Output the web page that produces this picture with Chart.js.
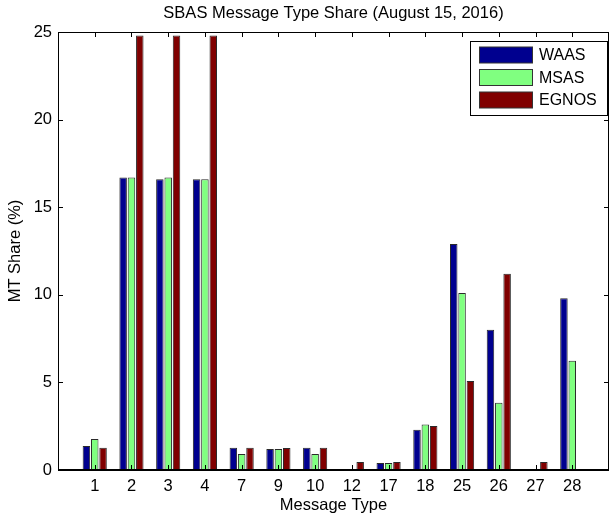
<!DOCTYPE html>
<html>
<head>
<meta charset="utf-8">
<script src="https://cdn.jsdelivr.net/npm/chart.js@4/dist/chart.umd.min.js"></script>
<style>
    html, body { margin: 0; padding: 0; background: #fff; }
    #box { width: 610px; height: 518px; }
</style>
</head>
<body>
<div id="box"><canvas id="grafico"></canvas></div>
<script>
const tiposMensagem = ["1", "2", "3", "4", "7", "9", "10", "12", "17", "18", "25", "26", "27", "28"];
const waas  = [1.37, 16.7, 16.6, 16.6, 1.27, 1.2, 1.27, 0, 0.4, 2.3, 12.9, 8.0, 0, 9.8];
const msas  = [1.77, 16.7, 16.7, 16.6, 0.91, 1.2, 0.91, 0, 0.4, 2.59, 10.1, 3.84, 0, 6.24];
const egnos = [1.27, 24.8, 24.8, 24.8, 1.27, 1.25, 1.27, 0.46, 0.46, 2.51, 5.08, 11.2, 0.46, 0];
const ticksY = [0, 5, 10, 15, 20, 25];

const fonte = "'Liberation Sans', Arial, Helvetica, sans-serif";

// posicao de cada tipo no eixo x (0..13), como no matlab com xlim 0..15
function pontos(valores) {
    return valores.map((v, i) => ({ x: i, y: v }));
}

// moldura, marcas internas e linha de base (estilo matlab)
const moldura = {
    id: "moldura",
    afterDatasetsDraw(chart) {
        const { ctx, chartArea: a, scales: { x, y } } = chart;
        ctx.save();
        ctx.strokeStyle = "#000";
        ctx.lineWidth = 1;
        ctx.strokeRect(Math.round(a.left) + 0.5, Math.round(a.top) + 0.5,
            Math.round(a.right - a.left) - 1, Math.round(a.bottom - a.top));
        ctx.beginPath();
        tiposMensagem.forEach((t, i) => {
            const px = Math.round(x.getPixelForValue(i)) + 0.5;
            ctx.moveTo(px, a.bottom); ctx.lineTo(px, a.bottom - 5);
            ctx.moveTo(px, a.top); ctx.lineTo(px, a.top + 5);
        });
        ticksY.forEach(v => {
            const py = Math.round(y.getPixelForValue(v)) + 0.5;
            ctx.moveTo(a.left, py); ctx.lineTo(a.left + 5, py);
            ctx.moveTo(a.right, py); ctx.lineTo(a.right - 5, py);
        });
        ctx.stroke();
        const y0 = y.getPixelForValue(0);
        ctx.lineWidth = 2;
        ctx.beginPath();
        ctx.moveTo(a.left, y0); ctx.lineTo(a.right, y0);
        ctx.stroke();
        ctx.restore();
    }
};

// legenda dentro do grafico, canto superior direito
const legendaInterna = {
    id: "legendaInterna",
    afterDraw(chart) {
        const { ctx } = chart;
        const x0 = 470, y0 = 41, w = 137, h = 74;
        ctx.save();
        ctx.fillStyle = "#fff";
        ctx.fillRect(x0, y0, w, h);
        ctx.strokeStyle = "#000";
        ctx.lineWidth = 1;
        ctx.strokeRect(x0 + 0.5, y0 + 0.5, w, h);
        ctx.font = "16px " + fonte;
        ctx.textBaseline = "middle";
        chart.data.datasets.forEach((ds, i) => {
            const ry = 47 + i * 22.5;
            ctx.fillStyle = ds.backgroundColor;
            ctx.fillRect(479.5, ry, 53, 16);
            ctx.strokeStyle = "#333";
            ctx.strokeRect(479.5, ry, 53, 16);
            ctx.fillStyle = "#000";
            ctx.fillText(ds.label, 539, ry + 9);
        });
        ctx.restore();
    }
};

function criarGrafico() {
    const ctx = document.getElementById("grafico").getContext("2d");
    const base = {
        borderColor: "#2a2a2a",
        borderWidth: 1,
        categoryPercentage: 0.68,
        barPercentage: 0.9,
    };

    new Chart(ctx, {
        type: "bar",
        data: {
            datasets: [
                { ...base, label: "WAAS", data: pontos(waas), backgroundColor: "#00008f" },
                { ...base, label: "MSAS", data: pontos(msas), backgroundColor: "#80ff80" },
                { ...base, label: "EGNOS", data: pontos(egnos), backgroundColor: "#800000" },
            ],
        },
        options: {
            responsive: true,
            maintainAspectRatio: false,
            animation: false,
            layout: { padding: { left: 0, right: 1, top: 0, bottom: 0 } },
            plugins: {
                legend: { display: false },
                tooltip: { enabled: false },
                title: {
                    display: true,
                    fullSize: false,
                    text: "SBAS Message Type Share (August 15, 2016)",
                    color: "#000",
                    font: { family: fonte, size: 16.5, weight: "normal", lineHeight: 1.2 },
                    padding: { top: 4, bottom: 8.2 },
                },
            },
            scales: {
                x: {
                    type: "linear",
                    min: -1,
                    max: tiposMensagem.length,
                    offset: false,
                    grid: { display: false, drawTicks: false },
                    border: { display: false },
                    afterBuildTicks: s => { s.ticks = tiposMensagem.map((t, i) => ({ value: i })); },
                    afterFit: s => { s.height = 48; },
                    ticks: {
                        color: "#000",
                        padding: 7,
                        maxRotation: 0,
                        autoSkip: false,
                        font: { family: fonte, size: 16.5 },
                        callback: v => tiposMensagem[v] ?? "",
                    },
                    title: {
                        display: true,
                        text: "Message Type",
                        color: "#000",
                        font: { family: fonte, size: 16.5 },
                        padding: { top: 0, bottom: 3 },
                    },
                },
                y: {
                    min: 0,
                    max: 25,
                    grid: { display: false, drawTicks: false },
                    border: { display: false },
                    afterFit: s => { s.width = 58; },
                    afterBuildTicks: s => { s.ticks = ticksY.map(v => ({ value: v })); },
                    ticks: {
                        color: "#000",
                        padding: 6,
                        font: { family: fonte, size: 16.5 },
                    },
                    title: {
                        display: true,
                        text: "MT Share (%)",
                        color: "#000",
                        font: { family: fonte, size: 16.5 },
                        padding: { top: 6, bottom: 0 },
                    },
                },
            },
        },
        plugins: [moldura, legendaInterna],
    });
}

criarGrafico();
</script>
</body>
</html>
